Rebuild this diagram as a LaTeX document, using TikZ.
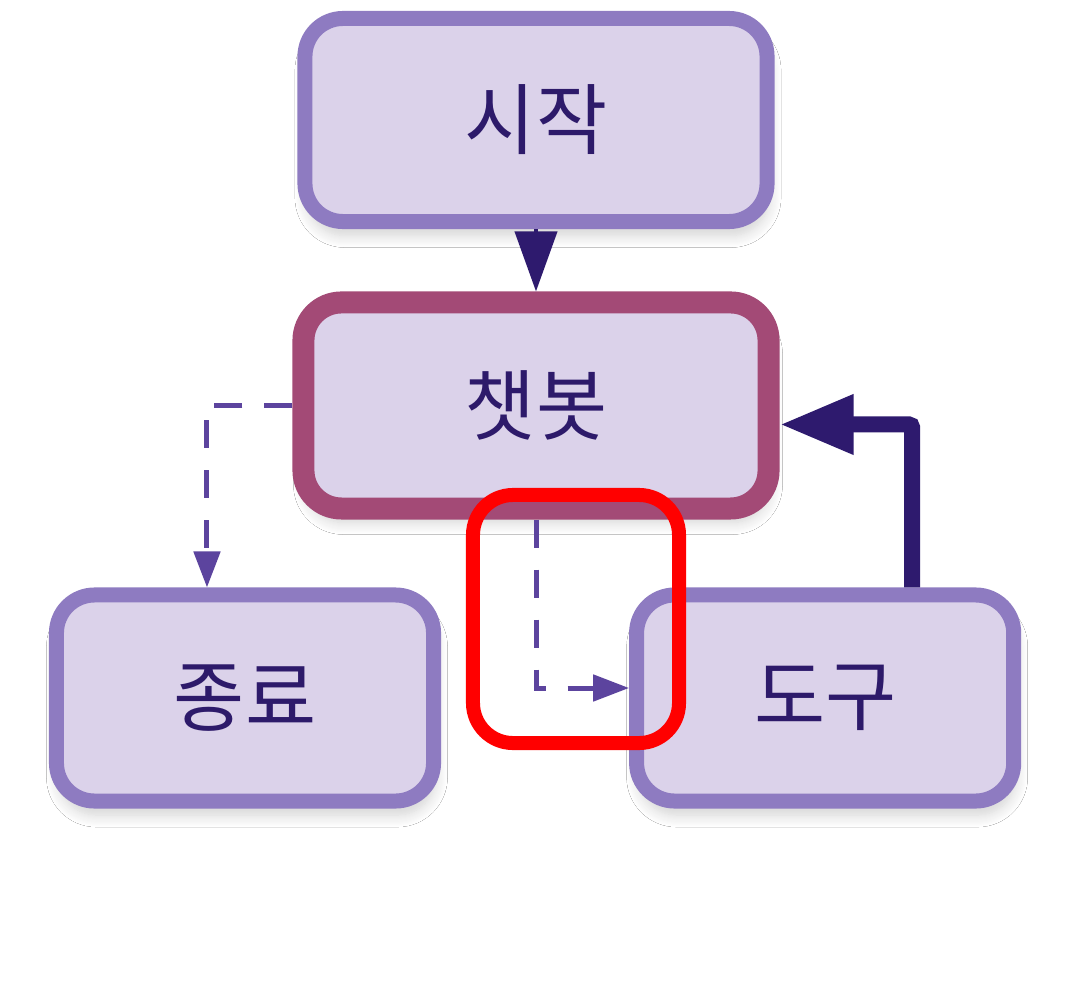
\documentclass[tikz,border=0pt]{standalone}
\usepackage{fontspec}
\newfontfamily\kofont{Noto Sans CJK KR}
\usepackage{tikz}
\usetikzlibrary{arrows.meta}
\usetikzlibrary{positioning}
\usetikzlibrary{shadows.blur}
\definecolor{boxfill}{HTML}{DBD2EA}
\definecolor{boxline}{HTML}{8E7BC1}
\definecolor{botline}{HTML}{A34A76}
\definecolor{boxtext}{HTML}{2D1A6A}
\definecolor{dashcol}{HTML}{5C449E}
\definecolor{darkcol}{HTML}{2E1A6E}
\definecolor{markred}{HTML}{FF0000}
\tikzset{
  every picture/.style={font={\kofont\fontsize{55}{60}\selectfont}, >=Triangle}}

\begin{document}
\begin{tikzpicture}[x=0.025cm, y=-0.025cm,
    stepbox/.style={draw=boxline, fill=boxfill, text=boxtext, line width=0.375cm,
      rounded corners=0.95cm, minimum width=9.425cm, minimum height=5.15cm,
      blur shadow={shadow xshift=0.05cm, shadow yshift=-0.35cm,
        shadow blur radius=0.3cm, shadow blur steps=12, shadow opacity=18}},
    startbox/.style={stepbox, minimum width=11.55cm, minimum height=5.075cm},
    botbox/.style={stepbox, draw=botline, line width=0.55cm, minimum width=11.625cm},
    dashline/.style={draw=dashcol, line width=0.125cm, dash pattern=on 0.7cm off 0.55cm,
      -{Triangle[width=0.65cm, length=0.9cm]}},
    toolline/.style={draw=darkcol, line width=0.4cm, rounded corners=0.08cm,
      -{Triangle[width=1.4cm, length=1.85cm]}},
    startline/.style={draw=darkcol, line width=0.1cm,
      -{Triangle[width=1.05cm, length=1.5cm]}},
    markbox/.style={draw=markred, line width=0.35cm, rounded corners=1cm,
      minimum width=5.15cm, minimum height=6.2cm}]

    \useasboundingbox[fill=white] (0,0) rectangle (1072,992);

    \node[startbox] (start) at (536,120) {시작};
    \node[botbox] (bot) [below=1.56cm of start] {챗봇};
    \node[stepbox] (end) at (245,698) {종료};
    \node[stepbox] (tools) [right=4.7cm of end] {도구};

    \draw[startline] (start.south) -- (bot.north);
    \draw[dashline] (bot.west) -| ([xshift=-0.95cm]end.north);
    \draw[dashline] (bot.south) |- ([yshift=0.25cm]tools.west);
    \draw[toolline] ([xshift=2.175cm]tools.north) |- ([yshift=-0.475cm]bot.east);

    % highlight
    \node[markbox] (mark) at (576,619) {};
  \end{tikzpicture}
\end{document}
